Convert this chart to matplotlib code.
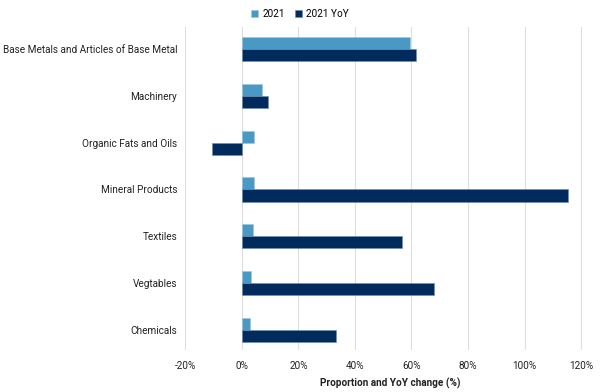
import matplotlib
matplotlib.use("Agg")
import matplotlib.pyplot as plt
import numpy as np
from matplotlib.ticker import FuncFormatter

categories = ["Base Metals and Articles of Base Metal", "Machinery", "Organic Fats and Oils",
              "Mineral Products", "Textiles", "Vegtables", "Chemicals"]
share_2021 = [59.4, 7.0, 4.2, 4.2, 4.0, 3.2, 2.9]
yoy_2021 = [61.7, 9.1, -10.6, 115.3, 56.6, 67.8, 33.2]
xticks = [-20, 0, 20, 40, 60, 80, 100, 120]

plt.rcParams['font.family'] = ['Roboto', 'DejaVu Sans']

fig = plt.figure(figsize=(6, 3.92), dpi=100)
ax = fig.add_axes([0.309, 0.107, 0.683, 0.824])

y = np.arange(len(categories))
h = 0.26
ax.barh(y - h/2, share_2021, height=h, color="#4a98c4", label="2021", zorder=3, edgecolor="#9cc4de", linewidth=0.4)
ax.barh(y + h/2, yoy_2021, height=h, color="#002b5c", label="2021 YoY", zorder=3, edgecolor="#6f8fb0", linewidth=0.4)

ax.set_yticks(y)
ax.set_yticklabels(categories, fontsize=7.2, color="#222222")
ax.set_ylim(6.43, -0.47)
ax.set_xlim(-20, 125)
ax.set_xticks(xticks)
ax.xaxis.set_major_formatter(FuncFormatter(lambda v, p: f"{v:.0f}%"))
ax.tick_params(axis='x', labelsize=7.2, colors="#222222", length=0, pad=8)
ax.tick_params(axis='y', length=0, pad=6)
ax.grid(axis='x', color="#dddddd", linewidth=0.8, zorder=0)
for s in ax.spines.values():
    s.set_visible(False)
ax.set_xlabel("Proportion and YoY change (%)", fontsize=7.2, fontweight='bold', color="#222222", labelpad=5)

fig.legend(loc="upper center", bbox_to_anchor=(0.5, 1.0), ncol=2, frameon=False, fontsize=7.2,
           handlelength=0.7, handleheight=0.7, handletextpad=0.4, columnspacing=1.0)

fig.savefig("out.png", dpi=100)
